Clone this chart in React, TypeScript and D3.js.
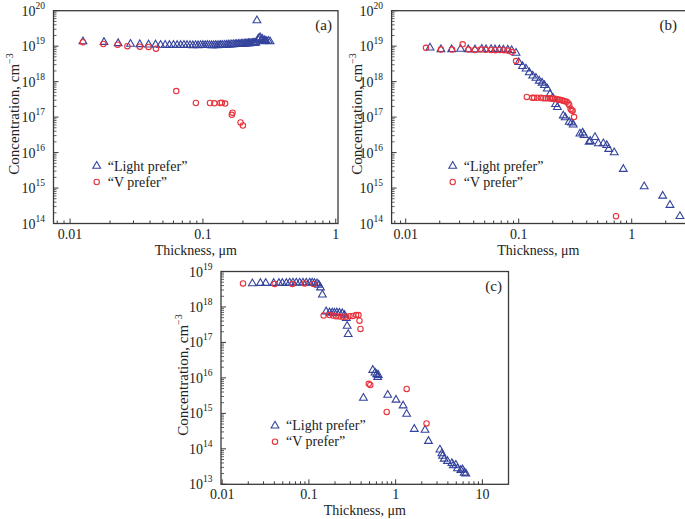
import React from "react";
import * as d3 from "d3";

// ---------- data: [thickness µm, concentration cm^-3] ----------
const lightA: [number, number][] = [
  [0.0125, 1.35e19], [0.018, 1.3e19], [0.023, 1.2e19], [0.0285, 1.15e19], [0.0335, 1.12e19],
  [0.039, 1.1e19], [0.044, 1.1e19], [0.048, 1.08e19], [0.052, 1.08e19], [0.056, 1.07e19],
  [0.06, 1.08e19], [0.064, 1.07e19], [0.068, 1.07e19], [0.072, 1.08e19], [0.076, 1.07e19],
  [0.08, 1.06e19], [0.084, 1.05e19], [0.088, 1.06e19], [0.092, 1.05e19], [0.096, 1.06e19],
  [0.1, 1.07e19], [0.104, 1.06e19], [0.108, 1.07e19], [0.112, 1.06e19], [0.116, 1.05e19],
  [0.12, 1.05e19], [0.124, 1.06e19], [0.128, 1.05e19], [0.132, 1.06e19], [0.136, 1.07e19],
  [0.14, 1.08e19], [0.145, 1.08e19], [0.15, 1.09e19], [0.155, 1.1e19], [0.16, 1.1e19],
  [0.165, 1.11e19], [0.17, 1.12e19], [0.175, 1.13e19], [0.18, 1.14e19], [0.185, 1.14e19],
  [0.19, 1.15e19], [0.195, 1.16e19], [0.2, 1.17e19], [0.205, 1.17e19], [0.21, 1.18e19],
  [0.215, 1.19e19], [0.22, 1.2e19], [0.225, 1.2e19], [0.23, 1.21e19], [0.235, 1.22e19],
  [0.24, 1.23e19], [0.245, 1.22e19], [0.25, 1.25e19], [0.255, 5.3e19], [0.26, 1.55e19],
  [0.265, 1.7e19], [0.27, 1.75e19], [0.275, 1.45e19], [0.28, 1.6e19], [0.285, 1.35e19],
  [0.29, 1.45e19], [0.295, 1.4e19], [0.3, 1.38e19], [0.31, 1.4e19], [0.32, 1.35e19],
];
const vA: [number, number][] = [
  [0.0125, 1.3e19], [0.0178, 1.15e19], [0.0228, 1.1e19], [0.027, 1.0e19], [0.0335, 0.97e19],
  [0.039, 0.95e19], [0.0443, 0.85e19], [0.063, 5.4e17], [0.0885, 2.5e17], [0.113, 2.5e17],
  [0.122, 2.45e17], [0.135, 2.5e17], [0.139, 2.55e17], [0.147, 2.4e17], [0.165, 1.16e17],
  [0.167, 1.33e17], [0.192, 7.1e16], [0.2, 5.8e16],
];
const lightB: [number, number][] = [
  [0.0164, 9.0e18], [0.0205, 8.1e18], [0.0255, 8.1e18], [0.0306, 8.3e18], [0.0358, 8.1e18],
  [0.041, 8.0e18], [0.0471, 8.3e18], [0.0514, 8.1e18], [0.0569, 8.2e18], [0.0617, 8.0e18],
  [0.0673, 8.0e18], [0.0731, 7.9e18], [0.08, 7.9e18], [0.0867, 7.6e18], [0.0947, 6.4e18],
  [0.1, 3.5e18], [0.108, 2.7e18], [0.116, 2.3e18], [0.124, 1.8e18], [0.133, 1.47e18],
  [0.142, 1.26e18], [0.152, 1.05e18], [0.161, 9.2e17], [0.169, 7.9e17], [0.179, 6.3e17],
  [0.189, 4.4e17], [0.2, 3.5e17], [0.212, 2.3e17], [0.22, 1.9e17], [0.248, 1.1e17],
  [0.258, 9.7e16], [0.28, 7.3e16], [0.294, 6.9e16], [0.304, 6.1e16], [0.348, 3.4e16],
  [0.368, 3.6e16], [0.378, 3.1e16], [0.42, 2.0e16], [0.43, 2.1e16], [0.473, 2.7e16],
  [0.506, 1.8e16], [0.561, 1.8e16], [0.601, 1.6e16], [0.626, 1.25e16], [0.7, 1.0e16],
  [0.843, 3.4e15], [1.29, 1.1e15], [1.88, 6.0e14], [2.18, 3.3e14], [2.67, 1.6e14],
];
const vB: [number, number][] = [
  [0.0151, 9.0e18], [0.0205, 8.0e18], [0.0257, 8.0e18], [0.0319, 1.13e19], [0.036, 8.0e18],
  [0.041, 7.8e18], [0.046, 8.0e18], [0.051, 7.9e18], [0.057, 7.8e18], [0.062, 7.7e18],
  [0.068, 7.8e18], [0.074, 7.7e18], [0.08, 7.5e18], [0.087, 6.8e18], [0.0947, 3.8e18],
  [0.118, 3.7e17], [0.132, 3.5e17], [0.137, 3.5e17], [0.146, 3.5e17], [0.157, 3.5e17],
  [0.165, 3.4e17], [0.173, 3.4e17], [0.181, 3.4e17], [0.189, 3.4e17], [0.196, 3.3e17],
  [0.202, 3.3e17], [0.21, 3.3e17], [0.217, 3.2e17], [0.225, 3.1e17], [0.232, 3.1e17],
  [0.24, 3.0e17], [0.248, 2.9e17], [0.256, 2.8e17], [0.266, 2.7e17], [0.275, 2.4e17],
  [0.28, 2.2e17], [0.288, 1.7e17], [0.294, 1.55e17], [0.3, 1.5e17], [0.309, 1.0e17],
  [0.726, 1.6e14],
];
const lightC: [number, number][] = [
  [0.0223, 4.6e18], [0.0276, 4.7e18], [0.0318, 4.7e18], [0.0393, 4.7e18], [0.0452, 4.7e18],
  [0.0494, 4.7e18], [0.055, 4.7e18], [0.06, 4.8e18], [0.0655, 4.8e18], [0.0716, 4.8e18],
  [0.0782, 4.8e18], [0.0853, 4.8e18], [0.0933, 4.8e18], [0.102, 4.8e18], [0.109, 4.8e18],
  [0.116, 4.7e18], [0.124, 4.6e18], [0.13, 4.2e18], [0.136, 3.5e18], [0.143, 2.2e18],
  [0.158, 7.4e17], [0.173, 6.9e17], [0.186, 6.9e17], [0.197, 6.8e17], [0.21, 6.9e17],
  [0.225, 6.8e17], [0.242, 6.6e17], [0.257, 5.9e17], [0.27, 4.8e17], [0.276, 2.9e17],
  [0.284, 1.7e17], [0.425, 2.7e15], [0.545, 1.66e16], [0.579, 1.4e16], [0.605, 1.26e16],
  [0.621, 1.05e16], [0.63, 1.2e16], [0.81, 3.3e15], [1.01, 2.4e15], [1.22, 1.65e15],
  [1.34, 9.6e14], [1.64, 3.6e14], [2.18, 3.4e14], [2.39, 1.65e14], [3.24, 9.4e13],
  [3.41, 7.4e13], [3.48, 6.3e13], [3.63, 5.2e13], [3.96, 4.5e13], [4.45, 3.9e13],
  [4.62, 3.4e13], [4.94, 3.5e13], [5.17, 2.8e13], [5.65, 2.5e13], [5.9, 2.6e13],
  [6.17, 2.1e13], [6.44, 2.0e13],
];
const vC: [number, number][] = [
  [0.0174, 4.6e18], [0.0403, 4.45e18], [0.0644, 4.45e18], [0.0893, 4.6e18], [0.113, 4.45e18],
  [0.148, 5.7e17], [0.173, 5.9e17], [0.189, 5.7e17], [0.206, 5.5e17], [0.225, 5.4e17],
  [0.246, 5.3e17], [0.269, 5.3e17], [0.294, 5.5e17], [0.321, 5.6e17], [0.35, 5.9e17],
  [0.373, 5.9e17], [0.383, 4.1e17], [0.393, 2.4e17], [0.49, 6.8e15], [0.51, 6.3e15],
  [0.789, 1.1e15], [1.34, 4.9e15], [2.27, 5.2e14],
];

const xTicksAB = [0.01, 0.1, 1];
const xTickLabelsAB = ["0.01", "0.1", "1"];
const xTicksC = [0.01, 0.1, 1, 10];
const xTickLabelsC = ["0.01", "0.1", "1", "10"];
const yExpsAB = [14, 15, 16, 17, 18, 19, 20];
const yExpsC = [13, 14, 15, 16, 17, 18, 19];
const legendLabels = ["\u201CLight prefer\u201D", "\u201CV prefer\u201D"];
const panelLabels = ["(a)", "(b)", "(c)"];
const xTitle = "Thickness, \u03BCm";
const yTitle = "Concentration, cm";

const BLUE = "#33429c";
const RED = "#e8323c";
const FRAME = "#3a3a3a";
const FONT = "'Liberation Serif', 'Times New Roman', serif";

type PanelProps = {
  x0: number; x1: number; y0: number; y1: number;
  xDomain: [number, number]; yDomain: [number, number];
  xTicks: number[]; xTickLabels: string[]; yExps: number[];
  light: [number, number][]; v: [number, number][];
  label: string; labelX: number; labelY: number;
  legX: number; legY: number; titleX: number; titleY: number;
};

const triPath = d3.symbol(d3.symbolTriangle, 26)() as string;

function Panel(p: PanelProps) {
  const x = d3.scaleLog().domain(p.xDomain).range([p.x0, p.x1]);
  const y = d3.scaleLog().domain(p.yDomain).range([p.y1, p.y0]);
  const xMinor: number[] = [];
  for (let d = Math.floor(Math.log10(p.xDomain[0])); d <= Math.ceil(Math.log10(p.xDomain[1])); d++) {
    for (let k = 1; k <= 9; k++) {
      const v = k * Math.pow(10, d);
      if (v > p.xDomain[0] * 1.001 && v < p.xDomain[1] * 0.999) xMinor.push(v);
    }
  }
  const yMinor: number[] = [];
  for (let d = Math.round(Math.log10(p.yDomain[0])); d < Math.round(Math.log10(p.yDomain[1])); d++) {
    for (let k = 2; k <= 9; k++) yMinor.push(k * Math.pow(10, d));
  }
  return (
    <g fontFamily={FONT} fill="#222">
      <rect x={p.x0} y={p.y0} width={p.x1 - p.x0} height={p.y1 - p.y0} fill="none" stroke={FRAME} strokeWidth={1.3} />
      {xMinor.map((v, i) => {
        const major = p.xTicks.some((t) => Math.abs(t - v) / t < 1e-6);
        const len = major ? 5 : 3;
        return <line key={"xm" + i} x1={x(v)} x2={x(v)} y1={p.y1} y2={p.y1 - len} stroke={FRAME} strokeWidth={1} />;
      })}
      {p.xTicks.map((t, i) => (
        <text key={"xl" + i} x={x(t)} y={p.y1 + 15} textAnchor="middle" fontSize={14}>{p.xTickLabels[i]}</text>
      ))}
      {yMinor.map((v, i) => (
        <line key={"ym" + i} x1={p.x0} x2={p.x0 + 3} y1={y(v)} y2={y(v)} stroke={FRAME} strokeWidth={0.8} />
      ))}
      {p.yExps.map((e, i) => (
        <g key={"yl" + i}>
          <line x1={p.x0} x2={p.x0 + 5} y1={y(Math.pow(10, e))} y2={y(Math.pow(10, e))} stroke={FRAME} strokeWidth={1} />
          <text x={p.x0 - 18} y={y(Math.pow(10, e)) + 5} textAnchor="end" fontSize={14}>10</text>
          <text x={p.x0 - 18} y={y(Math.pow(10, e)) - 2} textAnchor="start" fontSize={9.5}>{e}</text>
        </g>
      ))}
      <text x={(p.x0 + Math.min(p.x1, 685)) / 2} y={p.y1 + 31} textAnchor="middle" fontSize={14}>{xTitle}</text>
      <text transform={`translate(${p.titleX},${p.titleY}) rotate(-90)`} textAnchor="middle" fontSize={15}>
        {yTitle}
        <tspan fontSize={10} dy={-6}>{"\u22123"}</tspan>
      </text>
      <text x={p.labelX} y={p.labelY} textAnchor="end" fontSize={15}>{p.label}</text>
      {p.light.map((d, i) => (
        <path key={"l" + i} d={triPath} transform={`translate(${x(d[0])},${y(d[1])})`} fill="none" stroke={BLUE} strokeWidth={1.1} />
      ))}
      {p.v.map((d, i) => (
        <circle key={"v" + i} cx={x(d[0])} cy={y(d[1])} r={2.7} fill="none" stroke={RED} strokeWidth={1.1} />
      ))}
      <path d={triPath} transform={`translate(${p.legX},${p.legY})`} fill="none" stroke={BLUE} strokeWidth={1.1} />
      <text x={p.legX + 11} y={p.legY + 4.5} fontSize={14}>{legendLabels[0]}</text>
      <circle cx={p.legX} cy={p.legY + 16} r={2.7} fill="none" stroke={RED} strokeWidth={1.1} />
      <text x={p.legX + 11} y={p.legY + 20.5} fontSize={14}>{legendLabels[1]}</text>
    </g>
  );
}

export default function App() {
  return (
    <svg width={685} height={519} style={{ position: "absolute", left: 0, top: 0, background: "#fff" }}>
      <rect x={0} y={0} width={685} height={519} fill="#fff" />
      <Panel x0={53.5} x1={338} y0={10.7} y1={223.5} xDomain={[0.0075, 1.04]} yDomain={[1e14, 1e20]}
        xTicks={xTicksAB} xTickLabels={xTickLabelsAB} yExps={yExpsAB} light={lightA} v={vA}
        label={panelLabels[0]} labelX={332} labelY={30} legX={96.7} legY={166} titleX={19} titleY={114} />
      <Panel x0={391.6} x1={690} y0={10.7} y1={223.5} xDomain={[0.0075, 3.28]} yDomain={[1e14, 1e20]}
        xTicks={xTicksAB} xTickLabels={xTickLabelsAB} yExps={yExpsAB} light={lightB} v={vB}
        label={panelLabels[1]} labelX={677} labelY={30} legX={452.7} legY={166} titleX={362} titleY={114} />
      <Panel x0={221} x1={508.5} y0={271.5} y1={484.3} xDomain={[0.0097, 20]} yDomain={[1e13, 1e19]}
        xTicks={xTicksC} xTickLabels={xTickLabelsC} yExps={yExpsC} light={lightC} v={vC}
        label={panelLabels[2]} labelX={502} labelY={291} legX={275} legY={425.7} titleX={188} titleY={375} />
    </svg>
  );
}
